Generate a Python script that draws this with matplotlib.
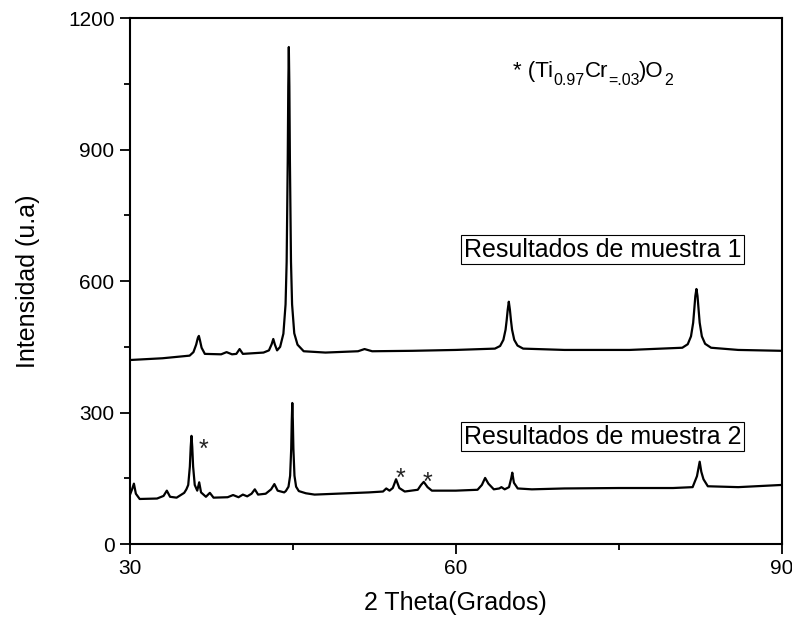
import matplotlib
matplotlib.use("Agg")
import matplotlib.pyplot as plt
from matplotlib.ticker import MultipleLocator
from matplotlib import transforms

plt.rcParams['font.family'] = ['Liberation Sans', 'DejaVu Sans']

# Sample 1 (upper pattern): 2-theta and intensity
m1_x = [30.0, 33.0, 35.5, 35.85, 36.1, 36.25, 36.35, 36.45, 36.6, 36.9, 38.4, 38.9, 39.4, 39.8,
        40.1, 40.4, 42.3, 42.8, 43.05, 43.2, 43.35, 43.55, 43.83, 44.13, 44.33, 44.43, 44.53,
        44.58, 44.63, 44.68, 44.73, 44.83, 44.93, 45.13, 45.43, 46.0, 48.0, 51.0, 51.6, 52.3,
        56.0, 60.0, 63.6, 64.08, 64.38, 64.58, 64.68, 64.78, 64.88, 64.98, 65.08, 65.18, 65.38,
        65.68, 66.2, 70.0, 76.0, 80.85, 81.35, 81.65, 81.85, 81.95, 82.05, 82.15, 82.25, 82.35,
        82.45, 82.65, 82.95, 83.5, 86.0, 90.0]
m1_y = [420, 424, 430, 438, 455, 470, 475, 465, 448, 434, 433, 438, 433, 434,
        445, 434, 437, 442, 456, 468, 455, 442, 450, 480, 547, 644, 875,
        1044, 1134, 1044, 875, 644, 547, 481, 455, 440, 437, 440, 445, 440,
        441, 443, 446, 452, 466, 489, 510, 535, 553, 535, 510, 489, 466,
        453, 446, 443, 443, 448, 456, 474, 505, 535, 566, 582, 566, 535,
        505, 474, 457, 448, 443, 441]

# Sample 2 (lower pattern)
m2_x = [30.0, 30.2, 30.37, 30.55, 30.9, 32.5, 33.1, 33.4, 33.7, 34.3, 35.0, 35.2, 35.37, 35.52,
        35.6, 35.67, 35.74, 35.82, 35.97, 36.2, 36.38, 36.55, 37.0, 37.36, 37.7, 39.0, 39.5,
        40.0, 40.4, 40.8, 41.2, 41.5, 41.8, 42.5, 43.0, 43.3, 43.6, 44.2, 44.35, 44.6, 44.75,
        44.85, 44.9, 44.95, 45.0, 45.05, 45.15, 45.3, 45.55, 46.2, 47.0, 49.0, 52.0, 53.3,
        53.6, 53.9, 54.2, 54.5, 54.8, 55.3, 56.5, 56.8, 57.05, 57.4, 57.8, 60.0, 62.0, 62.4,
        62.7, 63.0, 63.5, 64.0, 64.2, 64.5, 64.9, 65.1, 65.2, 65.35, 65.7, 67.0, 70.0, 75.0,
        80.0, 81.8, 82.2, 82.45, 82.6, 82.8, 83.2, 86.0, 90.0]
m2_y = [112, 125, 138, 115, 103, 104, 110, 122, 108, 106, 117, 125, 135, 177,
        222, 247, 222, 177, 135, 122, 141, 118, 108, 117, 106, 107, 112,
        107, 113, 109, 115, 125, 113, 115, 125, 137, 122, 118, 121, 131, 156,
        218, 281, 322, 281, 218, 156, 131, 121, 116, 113, 115, 118, 120,
        127, 122, 128, 148, 128, 120, 124, 135, 142, 130, 122, 122, 124, 135,
        151, 138, 125, 127, 130, 125, 130, 150, 163, 140, 127, 125, 127, 128,
        128, 130, 155, 188, 165, 148, 132, 130, 135]

# Phase markers (*)
star_x = [36.35, 54.5, 56.9]
star_y = [215, 150, 140]

x_ticks = [30, 60, 90]
y_ticks = [0, 300, 600, 900, 1200]

fig = plt.figure(figsize=(7.92, 6.24), dpi=100)
ax = fig.add_axes([0.164, 0.128, 0.823, 0.843])

ax.plot(m1_x, m1_y, color='black', lw=1.6)
ax.plot(m2_x, m2_y, color='black', lw=1.6)

for sx, sy in zip(star_x, star_y):
    ax.text(sx, sy, '*', ha='left', va='center', fontsize=18, color='#222222')

ax.text(73.5, 671, 'Resultados de muestra 1', ha='center', va='center', fontsize=18,
        bbox=dict(boxstyle='square,pad=0.1', fc='white', ec='black', lw=0.8))
ax.text(73.5, 245, 'Resultados de muestra 2', ha='center', va='center', fontsize=18,
        bbox=dict(boxstyle='square,pad=0.1', fc='white', ec='black', lw=0.8))

# Formula annotation built from pieces (main text + subscripts)
pieces = [('* (Ti', 0), ('0.97', 1), ('Cr', 0), ('=.03', 1), (')O', 0), ('2', 1)]
fig.canvas.draw()
renderer = fig.canvas.get_renderer()
x_off = 0.0
for s, sub in pieces:
    fs = 11.5 if sub else 16
    dy = -8.0 if sub else 0.0
    tr = transforms.offset_copy(ax.transData, fig=fig, x=x_off, y=dy, units='dots')
    t = ax.text(65.3, 1066, s, ha='left', va='baseline', fontsize=fs, transform=tr)
    x_off += t.get_window_extent(renderer).width

ax.set_xlim(30, 90)
ax.set_ylim(0, 1200)
ax.set_xticks(x_ticks)
ax.set_yticks(y_ticks)
ax.xaxis.set_minor_locator(MultipleLocator(15))
ax.yaxis.set_minor_locator(MultipleLocator(150))
ax.tick_params(which='both', direction='out', width=1.3, labelsize=15)
ax.tick_params(which='major', length=7, pad=4)
ax.tick_params(which='minor', length=4)
for s in ax.spines.values():
    s.set_linewidth(1.5)

ax.set_xlabel('2 Theta(Grados)', fontsize=18, labelpad=9)
ax.set_ylabel('Intensidad (u.a)', fontsize=18, labelpad=20)

fig.savefig('out.png', dpi=100)
